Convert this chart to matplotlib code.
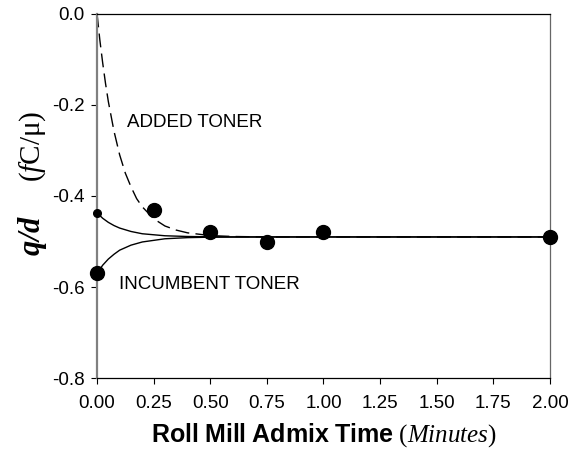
import numpy as np
import matplotlib
matplotlib.use("Agg")
import matplotlib.pyplot as plt

plt.rcParams['font.family'] = ['Liberation Sans', 'DejaVu Sans']
plt.rcParams['axes.unicode_minus'] = False
plt.rcParams['mathtext.fontset'] = 'custom'
plt.rcParams['mathtext.rm'] = 'Liberation Serif'
plt.rcParams['mathtext.it'] = 'Liberation Serif:italic'
plt.rcParams['mathtext.bf'] = 'Liberation Sans:bold'
plt.rcParams['mathtext.bfit'] = 'Liberation Serif:italic:bold'

# measured charge-to-diameter values
t_meas = [0.0, 0.25, 0.50, 0.75, 1.00, 2.00]
qd_meas = [-0.57, -0.43, -0.48, -0.50, -0.48, -0.49]
t_start = [0.0]
qd_start = [-0.437]

# added toner (dashed)
t_added = [0, 0.0125, 0.025, 0.0375, 0.05, 0.075, 0.10, 0.125, 0.15, 0.175,
           0.20, 0.25, 0.30, 0.35, 0.40, 0.50, 0.60, 0.75, 1.0, 2.0]
qd_added = [0, -0.058, -0.108, -0.153, -0.193, -0.258, -0.31, -0.35, -0.38, -0.406,
            -0.424, -0.45, -0.466, -0.475, -0.481, -0.487, -0.489, -0.49, -0.49, -0.49]

# incumbent toner, upper and lower branches
t_inc = [0, 0.025, 0.05, 0.075, 0.10, 0.15, 0.20, 0.30, 0.40, 0.50, 0.75, 1.0, 2.0]
qd_inc_up = [-0.437, -0.449, -0.458, -0.465, -0.4705, -0.478, -0.483, -0.4874, -0.489,
             -0.4897, -0.49, -0.49, -0.49]
qd_inc_low = [-0.57, -0.552, -0.5385, -0.528, -0.519, -0.508, -0.501, -0.494, -0.4915,
              -0.4905, -0.49, -0.49, -0.49]

xticks = [0.00, 0.25, 0.50, 0.75, 1.00, 1.25, 1.50, 1.75, 2.00]
yticks = [-0.8, -0.6, -0.4, -0.2, 0.0]

fig = plt.figure(figsize=(5.75, 4.5), dpi=100)
ax = fig.add_axes([0.1687, 0.1593, 0.7878, 0.8107])

ax.plot(t_added, qd_added, color='black', lw=1.0, dashes=(10, 4.5), clip_on=False)
ax.plot(t_inc, qd_inc_up, color='black', lw=1.0, clip_on=False)
ax.plot(t_inc, qd_inc_low, color='black', lw=1.0, clip_on=False)
ax.plot(t_meas, qd_meas, 'o', color='black', ms=10, clip_on=False, zorder=5)
ax.plot(t_start, qd_start, 'o', color='black', ms=5.5, clip_on=False, zorder=5)

ax.text(0.132, -0.238, 'ADDED TONER', fontsize=13.5, va='center', ha='left')
ax.text(0.098, -0.595, 'INCUMBENT TONER', fontsize=13.5, va='center', ha='left')

ax.set_xlim(0, 2.0)
ax.set_ylim(-0.8, 0.0)
ax.set_xticks(xticks)
ax.set_xticklabels(['%.2f' % v for v in xticks])
ax.set_yticks(yticks)
ax.set_yticklabels(['%.1f' % v for v in yticks])
ax.tick_params(direction='out', length=4, width=0.8, labelsize=13.5)
ax.tick_params(axis='x', pad=8)
ax.tick_params(axis='y', pad=5)

for side in ['top', 'right', 'bottom']:
    ax.spines[side].set_linewidth(0.9)
    ax.spines[side].set_color('black')
ax.spines['right'].set_color('#666666')
ax.spines['left'].set_linewidth(1.6)
ax.spines['left'].set_color('#808080')

ax.set_xlabel(r'$\mathbf{Roll\ Mill\ Admix\ Time}\ (\mathit{Minutes})$', fontsize=18)
ax.xaxis.set_label_coords(0.5, -0.118)

# y label in two pieces so the units sit apart from q/d
fig.text(0.056, 0.478, r'$\mathbfit{q/d}$', fontsize=22, rotation=90,
         ha='center', va='center')
fig.text(0.056, 0.676, r'$(\mathit{f}\mathrm{C/\mu})$', fontsize=21, rotation=90,
         ha='center', va='center')

fig.savefig('out.png', dpi=100)
